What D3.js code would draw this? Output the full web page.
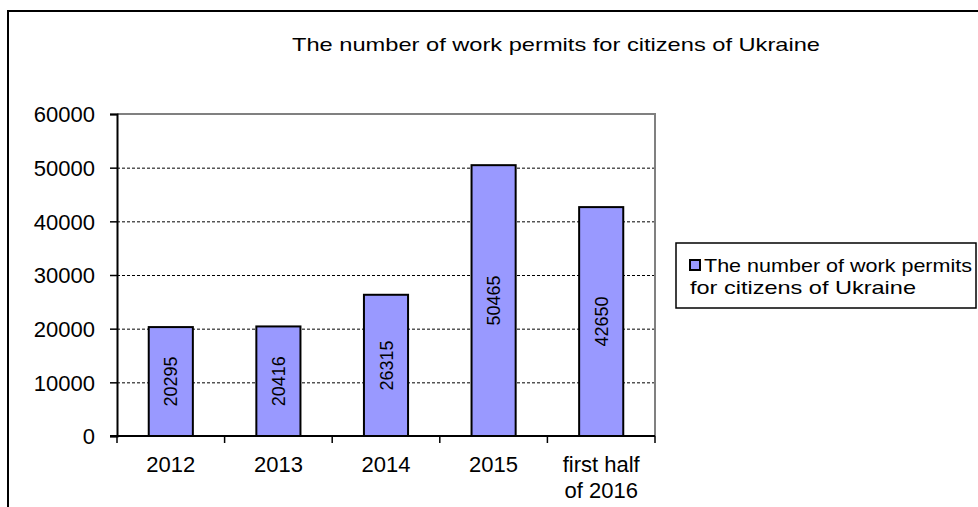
<!DOCTYPE html>
<html lang="en">
<head>
    <meta charset="UTF-8">
    <title>The number of work permits for citizens of Ukraine</title>
    <script src="https://d3js.org/d3.v7.min.js"></script>
    <style>
        body {
            margin: 0;
            background: #fff;
            font-family: 'Liberation Sans', Arial, sans-serif;
        }
        svg text {
            fill: #000;
        }
    </style>
</head>
<body>
    <div id="chart"></div>

    <script>
        const categories = ["2012", "2013", "2014", "2015", "first half\nof 2016"];
        const permits = [20295, 20416, 26315, 50465, 42650];
        const yTicks = [0, 10000, 20000, 30000, 40000, 50000, 60000];
        const title = "The number of work permits for citizens of Ukraine";
        const legendLines = ["The number of work permits", "for citizens of Ukraine"];

        const width = 978, height = 507;
        const plot = {left: 117, top: 114, right: 655, bottom: 436};

        const svg = d3.select("#chart")
            .append("svg")
            .attr("width", width)
            .attr("height", height);

        // outer chart frame (runs off the right and bottom edge)
        svg.append("rect")
            .attr("x", 8).attr("y", 11)
            .attr("width", width + 20).attr("height", height + 20)
            .attr("fill", "#fff")
            .attr("stroke", "#000")
            .attr("stroke-width", 2);

        svg.append("text")
            .attr("x", 292).attr("y", 51)
            .attr("font-size", 19)
            .attr("textLength", 528)
            .attr("lengthAdjust", "spacingAndGlyphs")
            .text(title);

        const x = d3.scaleBand()
            .domain(categories)
            .range([plot.left, plot.right])
            .paddingInner(0.59)
            .paddingOuter(0.295);

        const xTicks = d3.scaleBand()
            .domain(categories)
            .range([plot.left, plot.right]);

        const y = d3.scaleLinear()
            .domain([0, 60000])
            .range([plot.bottom, plot.top]);

        // gridlines
        svg.append("g")
            .selectAll("line")
            .data(yTicks.filter(d => d > 0 && d < 60000))
            .enter().append("line")
            .attr("x1", plot.left).attr("x2", plot.right)
            .attr("y1", d => y(d) + 0.5).attr("y2", d => y(d) + 0.5)
            .attr("stroke", "#000")
            .attr("stroke-width", 1)
            .attr("stroke-dasharray", "3,2");

        // plot area border top/right
        svg.append("path")
            .attr("d", `M${plot.left},${plot.top}H${plot.right}V${plot.bottom}`)
            .attr("fill", "none")
            .attr("stroke", "#808080")
            .attr("stroke-width", 2);

        // bars
        svg.append("g")
            .selectAll("rect")
            .data(permits)
            .enter().append("rect")
            .attr("x", (d, i) => x(categories[i]))
            .attr("y", d => y(d))
            .attr("width", x.bandwidth())
            .attr("height", d => y(0) - y(d))
            .attr("fill", "#9999FF")
            .attr("stroke", "#000")
            .attr("stroke-width", 2);

        // value labels, rotated
        svg.append("g")
            .selectAll("text")
            .data(permits)
            .enter().append("text")
            .attr("transform", (d, i) => {
                const cx = x(categories[i]) + x.bandwidth() / 2;
                const cy = (y(d) + y(0)) / 2;
                return `translate(${cx + 6.5},${cy}) rotate(-90)`;
            })
            .attr("text-anchor", "middle")
            .attr("font-size", 18)
            .text(d => d);

        // y axis
        const yAxis = svg.append("g")
            .attr("transform", `translate(${plot.left},0)`)
            .call(d3.axisLeft(y).tickValues(yTicks).tickSize(7).tickPadding(15).tickFormat(d3.format("d")));
        yAxis.select(".domain").attr("stroke", "#000").attr("stroke-width", 2);
        yAxis.selectAll(".tick line").attr("stroke", "#000").attr("stroke-width", 1.5);
        yAxis.selectAll(".tick text")
            .attr("font-family", "'Liberation Sans', Arial, sans-serif")
            .attr("font-size", 22)
            .attr("dy", "0.36em");

        // x axis
        const xAxis = svg.append("g")
            .attr("transform", `translate(0,${plot.bottom})`);
        xAxis.append("line")
            .attr("x1", plot.left - 7).attr("x2", plot.right)
            .attr("y1", 0).attr("y2", 0)
            .attr("stroke", "#000").attr("stroke-width", 2);
        xAxis.selectAll(".tk")
            .data(categories.concat([null]))
            .enter().append("line")
            .attr("x1", d => d ? xTicks(d) : plot.right)
            .attr("x2", d => d ? xTicks(d) : plot.right)
            .attr("y1", 0).attr("y2", 7)
            .attr("stroke", "#000").attr("stroke-width", 1.5);
        const xLabels = xAxis.selectAll(".lbl")
            .data(categories)
            .enter().append("text")
            .attr("x", d => xTicks(d) + xTicks.bandwidth() / 2)
            .attr("y", 36)
            .attr("text-anchor", "middle")
            .attr("font-size", 22);
        xLabels.each(function(d) {
            const lines = d.split("\n");
            const t = d3.select(this);
            lines.forEach((l, i) => {
                t.append("tspan")
                    .attr("x", xTicks(d) + xTicks.bandwidth() / 2)
                    .attr("dy", i === 0 ? 0 : 26)
                    .text(l);
            });
        });

        // legend
        const legend = svg.append("g");
        legend.append("rect")
            .attr("x", 676).attr("y", 243)
            .attr("width", 300).attr("height", 65)
            .attr("fill", "#fff")
            .attr("stroke", "#000")
            .attr("stroke-width", 1.5);
        legend.append("rect")
            .attr("x", 690).attr("y", 260)
            .attr("width", 10).attr("height", 10)
            .attr("fill", "#9999FF")
            .attr("stroke", "#000")
            .attr("stroke-width", 2);
        legend.append("text")
            .attr("x", 704).attr("y", 272)
            .attr("font-size", 19)
            .attr("textLength", 268)
            .attr("lengthAdjust", "spacingAndGlyphs")
            .text(legendLines[0]);
        legend.append("text")
            .attr("x", 690).attr("y", 294)
            .attr("font-size", 19)
            .attr("textLength", 226)
            .attr("lengthAdjust", "spacingAndGlyphs")
            .text(legendLines[1]);
    </script>
</body>
</html>
